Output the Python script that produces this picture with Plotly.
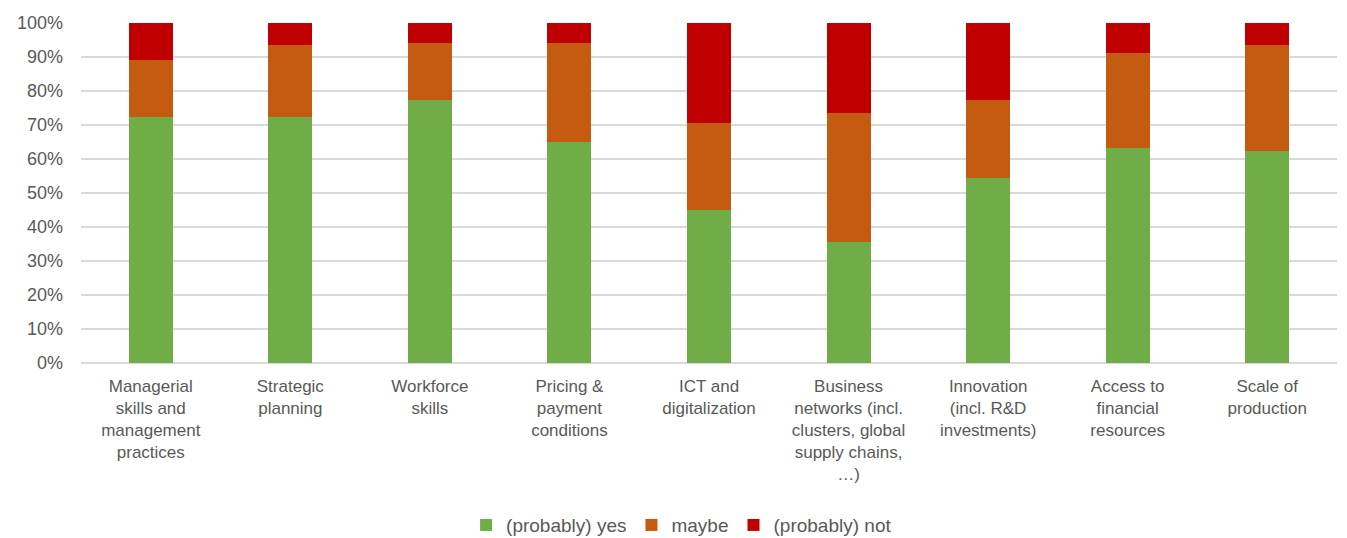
import plotly.graph_objects as go

categories = [
    "Managerial<br>skills and<br>management<br>practices",
    "Strategic<br>planning",
    "Workforce<br>skills",
    "Pricing &<br>payment<br>conditions",
    "ICT and<br>digitalization",
    "Business<br>networks (incl.<br>clusters, global<br>supply chains,<br>…)",
    "Innovation<br>(incl. R&D<br>investments)",
    "Access to<br>financial<br>resources",
    "Scale of<br>production",
]

probably_yes = [72.5, 72.5, 77.5, 65.0, 45.0, 35.6, 54.3, 63.3, 62.5]
maybe = [16.7, 21.0, 16.7, 29.2, 25.7, 37.9, 23.2, 27.8, 31.0]
probably_not = [10.8, 6.5, 5.8, 5.8, 29.3, 26.5, 22.5, 8.9, 6.5]

series = [
    ("(probably) yes", probably_yes, "#70AD47"),
    ("maybe", maybe, "#C55A11"),
    ("(probably) not", probably_not, "#C00000"),
]

font_family = "Liberation Sans, Arial, sans-serif"
text_color = "#595959"
grid_color = "#D9D9D9"

fig = go.Figure()
for name, values, color in series:
    fig.add_trace(go.Bar(
        x=categories,
        y=values,
        name=name,
        marker=dict(color=color, line=dict(width=0)),
        width=0.315,
    ))

fig.update_layout(
    barmode="stack",
    width=1347,
    height=538,
    margin=dict(l=81, r=10, t=23, b=175),
    paper_bgcolor="white",
    plot_bgcolor="white",
    font=dict(family=font_family, size=17, color=text_color),
    showlegend=True,
    legend=dict(
        orientation="h",
        xref="container",
        yref="container",
        x=0.506,
        y=0.024,
        xanchor="center",
        yanchor="middle",
        font=dict(size=19, color=text_color),
        itemwidth=30,
        traceorder="normal",
    ),
    xaxis=dict(
        showgrid=False,
        showline=False,
        ticks="",
        tickangle=0,
        ticklabelstandoff=11,
        tickfont=dict(size=17, color=text_color),
    ),
    yaxis=dict(
        range=[0, 100],
        dtick=10,
        ticksuffix="%",
        showgrid=True,
        gridcolor=grid_color,
        gridwidth=2,
        zeroline=True,
        zerolinecolor=grid_color,
        zerolinewidth=2,
        showline=False,
        ticks="",
        ticklabelstandoff=17,
        tickfont=dict(size=18, color=text_color),
    ),
)

fig.write_html("out.html")
